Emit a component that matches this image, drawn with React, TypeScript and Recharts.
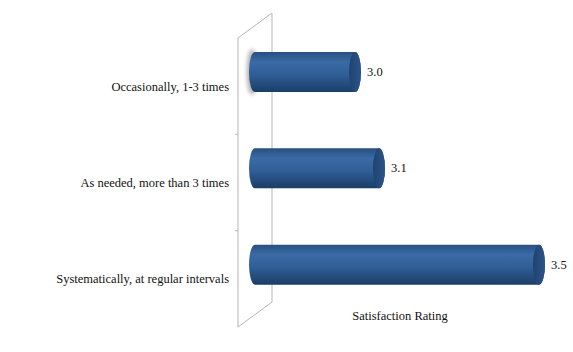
import React from 'react';
import { BarChart, Bar, XAxis, YAxis, LabelList, Customized } from 'recharts';

const categories = [
  'Occasionally, 1-3 times',
  'As needed, more than 3 times',
  'Systematically, at regular intervals',
];
const ratings = [3.02, 3.08, 3.48];
const axisTitle = 'Satisfaction Rating';

const data = categories.map((name, i) => ({ name, rating: ratings[i] }));

const W = 573;
const H = 352;
const LEFT = 238;
const TOP = 38;
const BOTTOM = 25;
const RIGHT = 15;
// 3D depth of the back wall, bars sit at half depth
const DX = 34;
const DY = -25;
const BDX = 17;
const BDY = -14;

const FONT = '"Liberation Serif", "Times New Roman", serif';
const FS = 12.5;

function Cylinder(props: any) {
  const { x, y, width, height, index } = props;
  const rx = 6;
  const ry = height / 2;
  const x0 = x + BDX;
  const x1 = x + BDX + width;
  const top = y + BDY;
  const bot = top + height;
  const body = `M${x0},${top} L${x1},${top} A${rx},${ry} 0 0 1 ${x1},${bot} L${x0},${bot} A${rx},${ry} 0 0 1 ${x0},${top} Z`;
  return (
    <g>
      {index === 0 && (
        <ellipse cx={x0 - 3} cy={top + ry} rx={5} ry={ry + 3} fill="#888" opacity={0.7} filter="url(#glow)" />
      )}
      <path d={body} fill="url(#cyl)" />
      <ellipse cx={x1} cy={top + ry} rx={rx} ry={ry} fill="url(#cap)" />
    </g>
  );
}

function ValueLabel(props: any) {
  const { x, y, width, height, value } = props;
  return (
    <text
      x={x + BDX + width + 12}
      y={y + BDY + height / 2}
      dominantBaseline="central"
      fontFamily={FONT}
      fontSize={FS}
      fill="#111"
    >
      {Number(value).toFixed(1)}
    </text>
  );
}

function Wall() {
  const bottom = H - BOTTOM;
  const band = (bottom - TOP) / categories.length;
  const stroke = '#b5b5b5';
  return (
    <g>
      <defs>
        <linearGradient id="cyl" x1="0" y1="0" x2="0" y2="1">
          <stop offset="0%" stopColor="#284f80" />
          <stop offset="25%" stopColor="#3a6ba5" />
          <stop offset="55%" stopColor="#315f97" />
          <stop offset="100%" stopColor="#1b3d68" />
        </linearGradient>
        <linearGradient id="cap" x1="0" y1="0" x2="1" y2="0">
          <stop offset="0%" stopColor="#1e4371" />
          <stop offset="100%" stopColor="#2b5486" />
        </linearGradient>
        <filter id="glow" x="-100%" y="-50%" width="300%" height="200%">
          <feGaussianBlur stdDeviation="2" />
        </filter>
      </defs>
      <polyline
        points={`${LEFT},${bottom} ${LEFT},${TOP} ${LEFT + DX},${TOP + DY} ${LEFT + DX},${bottom + DY} ${LEFT},${bottom}`}
        fill="none"
        stroke={stroke}
        strokeWidth={1}
      />
      {[1, 2].map((i) => (
        <line key={i} x1={LEFT - 3} x2={LEFT} y1={TOP + band * i} y2={TOP + band * i} stroke={stroke} />
      ))}
      <text x={400} y={316} textAnchor="middle" dominantBaseline="central" fontFamily={FONT} fontSize={FS} fill="#111">
        {axisTitle}
      </text>
    </g>
  );
}

export default function App() {
  return (
    <div style={{ position: 'absolute', left: 0, top: 0, width: W, height: H, background: '#fff' }}>
      <BarChart
        width={W}
        height={H}
        data={data}
        layout="vertical"
        margin={{ top: TOP, right: RIGHT, bottom: BOTTOM, left: 0 }}
      >
        <Customized component={Wall} />
        <XAxis type="number" domain={[2.77, 3.57]} allowDataOverflow hide />
        <YAxis
          type="category"
          dataKey="name"
          width={LEFT}
          axisLine={false}
          tickLine={false}
          tickSize={0}
          tickMargin={9}
          tick={{ fontFamily: FONT, fontSize: FS, fill: '#111' }}
        />
        <Bar dataKey="rating" barSize={40} shape={<Cylinder />} isAnimationActive={false}>
          <LabelList dataKey="rating" content={<ValueLabel />} />
        </Bar>
      </BarChart>
    </div>
  );
}
